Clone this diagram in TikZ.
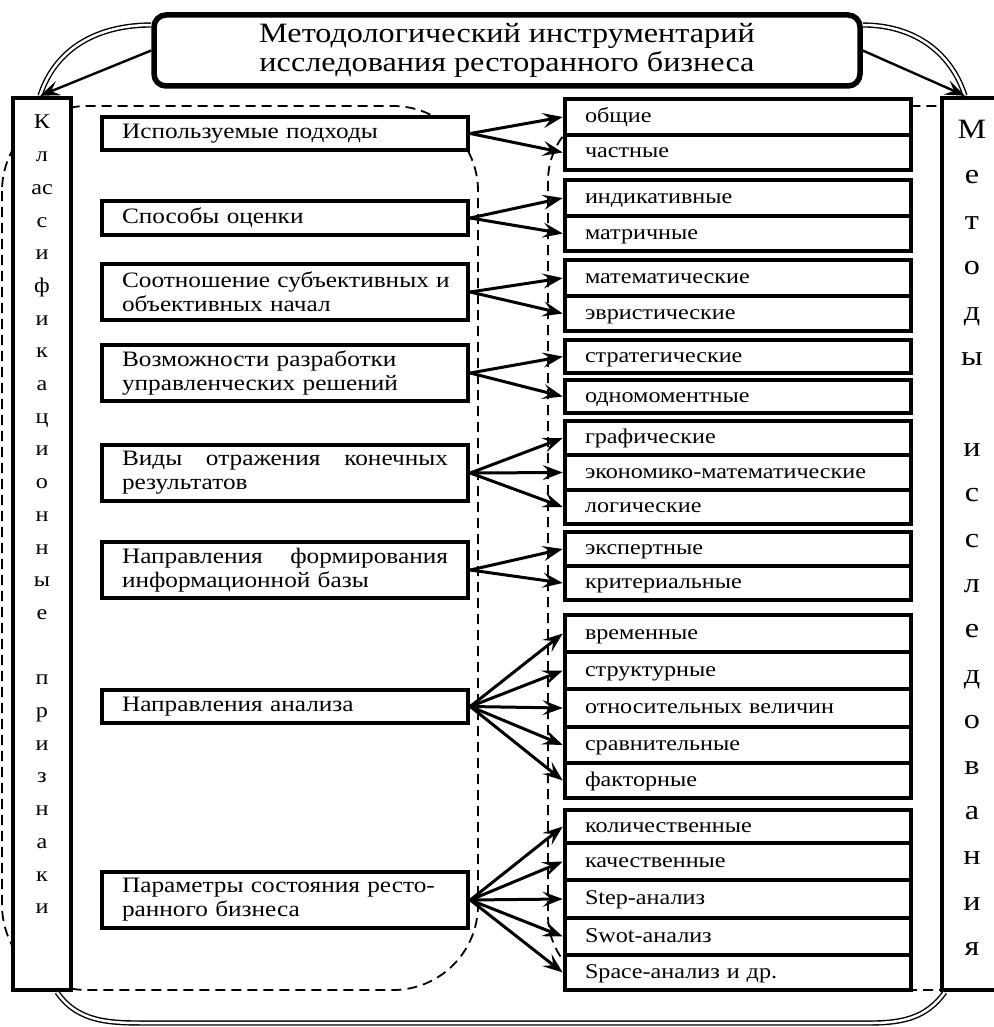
\documentclass[tikz,border=0pt]{standalone}
\usepackage{fontspec}
\setmainfont{Liberation Serif}[FakeStretch=1.15]
\usetikzlibrary{arrows.meta,calc}
\begin{document}
\begin{tikzpicture}[x=1pt,y=-1pt,
  cat/.style={draw, line width=4.5pt, fill=white, minimum width=366pt, text width=326pt,
    inner xsep=20pt, inner ysep=0pt, align=left, font=\fontsize{22}{24}\selectfont},
  cell/.style={draw, line width=4.5pt, fill=white, minimum width=346pt, text width=306pt,
    inner xsep=20pt, inner ysep=0pt, align=left, text height=15pt, text depth=4pt,
    font=\fontsize{21}{24}\selectfont},
  sidebox/.style={draw, line width=4.5pt, fill=white, inner sep=0pt},
  coltext/.style={inner sep=0pt, align=center, anchor=north},
  arr/.style={line width=3pt, -{Stealth[length=20pt,width=15pt,inset=8pt]}},
  dashline/.style={line width=1.8pt, dash pattern=on 10pt off 6pt},
  dbl/.style={line width=1.4pt, double=white, double distance=2.5pt},
]
\useasboundingbox (0,0) rectangle (993,1027);

% dashed groupings
\draw[dashline, rounded corners=85pt] (2,106) rectangle (478,990);
\draw[dashline, rounded corners=75pt] (548,106) rectangle (1040,990);

% title
\node[draw, line width=5.5pt, rounded corners=12pt, fill=white, minimum width=706pt,
  minimum height=71pt, align=center, inner sep=0pt,
  font=\fontsize{28}{29}\selectfont] (title) at (507,50.5)
  {Методологический инструментарий\\исследования ресторанного бизнеса};

% side columns
\node[sidebox, minimum width=58pt, minimum height=892pt] (lbox) at (42,544) {};
\node[coltext, font=\fontsize{21}{32.7}\selectfont] (ltext) at (42,115)
  {К\\л\\ас\\с\\и\\ф\\и\\к\\а\\ц\\и\\о\\н\\н\\ы\\е\\[32.7pt]п\\р\\и\\з\\н\\а\\к\\и};
\node[sidebox, minimum width=68pt, minimum height=892pt] (rbox) at (976,544) {};
\node[coltext, font=\fontsize{28}{45.4}\selectfont] (rtext) at (972,120)
  {М\\е\\т\\о\\д\\ы\\[45.4pt]и\\с\\с\\л\\е\\д\\о\\в\\а\\н\\и\\я};

% classification features
\node[cat, minimum height=33pt] (c1) at (285,133.5) {Используемые подходы};
\node[cat, minimum height=34pt] (c2) at (285,218) {Способы оценки};
\node[cat, minimum height=56pt] (c3) at (285,292) {\mbox{Соотношение субъективных и}\\объективных начал};
\node[cat, minimum height=56pt] (c4) at (285,373) {Возможности разработки\\управленческих решений};
\node[cat, minimum height=56pt] (c5) at (285,473) {\makebox[326pt][l]{Виды\hfill отражения\hfill конечных}\\результатов};
\node[cat, minimum height=56pt] (c6) at (285,570) {\makebox[326pt][l]{Направления\hfill формирования}\\информационной базы};
\node[cat, minimum height=33pt] (c7) at (285,706.5) {Направления анализа};
\node[cat, minimum height=56pt] (c8) at (285,900) {\mbox{Параметры состояния ресто-}\\ранного бизнеса};

% methods
\node[cell, minimum height=36pt] (r11) at (738,117) {общие};
\node[cell, minimum height=35pt] (r12) at (738,152.5) {частные};
\node[cell, minimum height=36pt] (r21) at (738,198) {индикативные};
\node[cell, minimum height=35pt] (r22) at (738,233.5) {матричные};
\node[cell, minimum height=36pt] (r31) at (738,278) {математические};
\node[cell, minimum height=35pt] (r32) at (738,313.5) {эвристические};
\node[cell, minimum height=33pt] (r41) at (738,356.5) {стратегические};
\node[cell, minimum height=33pt] (r42) at (738,396.5) {одномоментные};
\node[cell, minimum height=34pt] (r51) at (738,438) {графические};
\node[cell, minimum height=35pt] (r52) at (738,472.5) {экономико-математические};
\node[cell, minimum height=34pt] (r53) at (738,507) {логические};
\node[cell, minimum height=34pt] (r61) at (738,549) {экспертные};
\node[cell, minimum height=34pt] (r62) at (738,583) {критериальные};
\node[cell, minimum height=37pt] (r71) at (738,633.5) {временные};
\node[cell, minimum height=37pt] (r72) at (738,670.5) {структурные};
\node[cell, minimum height=38pt] (r73) at (738,708) {относительных величин};
\node[cell, minimum height=36pt] (r74) at (738,745) {сравнительные};
\node[cell, minimum height=35pt] (r75) at (738,780.5) {факторные};
\node[cell, minimum height=33pt] (r81) at (738,826.5) {количественные};
\node[cell, minimum height=37pt] (r82) at (738,861.5) {качественные};
\node[cell, minimum height=38pt] (r83) at (738,899) {Step-анализ};
\node[cell, minimum height=37pt] (r84) at (738,936.5) {Swot-анализ};
\node[cell, minimum height=35pt] (r85) at (738,972.5) {Space-анализ и др.};

% links from features to methods
\foreach \c/\r in {c1/r11,c1/r12,c2/r21,c2/r22,c3/r31,c3/r32,c4/r41,c4/r42,
                   c5/r51,c5/r52,c5/r53,c6/r61,c6/r62,
                   c7/r71,c7/r72,c7/r73,c7/r74,c7/r75,
                   c8/r81,c8/r82,c8/r83,c8/r84,c8/r85}
  \draw[arr] (\c.east) -- (\r.west);

% title to side columns
\draw[dbl] ([yshift=25.5pt]title.west) to[out=180,in=72] ([xshift=-2pt]lbox.north);
\draw[arr, line width=2.4pt] (title.west) -- ([xshift=-2pt]lbox.north);
\draw[dbl] ([yshift=25.5pt]title.east) to[out=0,in=108] ([xshift=-11pt]rbox.north);
\draw[arr, line width=2.4pt] (title.east) -- ([xshift=-11pt]rbox.north);

% bottom link between side columns
\draw[dbl] ([xshift=15pt]lbox.south) to[out=-55,in=180] (150,1023) -- (870,1023)
  to[out=0,in=-125] ([xshift=5pt]rbox.south west);
\end{tikzpicture}
\end{document}
